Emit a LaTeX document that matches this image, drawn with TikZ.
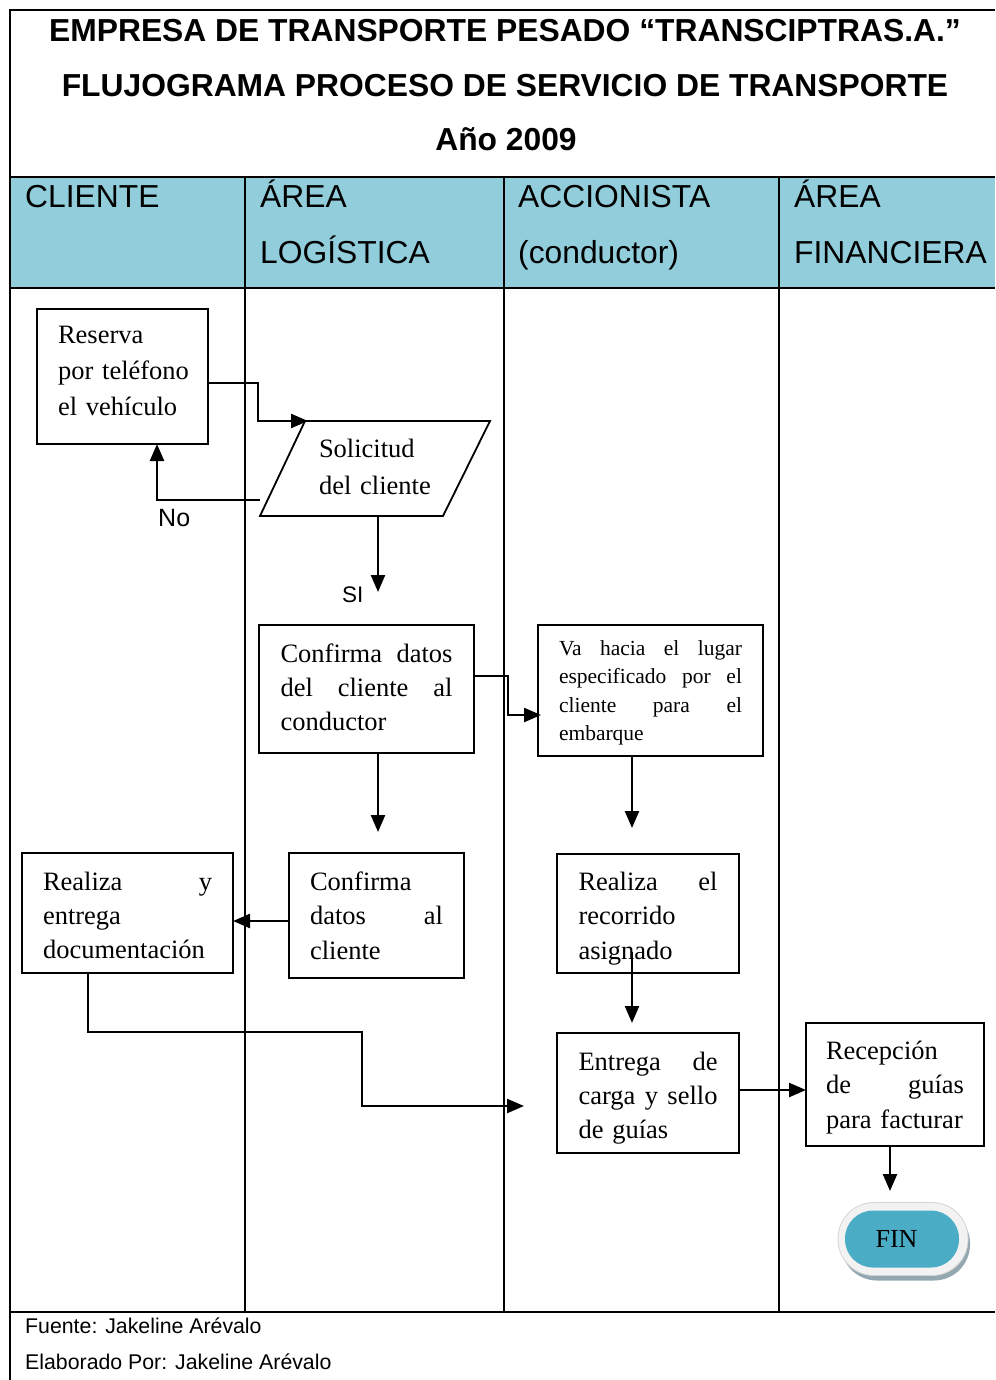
\documentclass[tikz,border=0pt]{standalone}
\usepackage{fontspec}
\setmainfont{Liberation Serif}
\newfontfamily\sansf{Liberation Sans}
\usetikzlibrary{arrows.meta,calc,backgrounds}
\definecolor{hdrblue}{HTML}{92CDDC}
\definecolor{finblue}{HTML}{4BACC6}
\definecolor{rimgray}{HTML}{F2F2F2}
\definecolor{rimedge}{HTML}{D4D4D4}
\definecolor{shadowc}{HTML}{94A8B2}
% invisible struts that fix the height of a first line and the depth of a last line
\newcommand\hstrut[1]{\rule{0pt}{#1pt}}
\newcommand\dstrut[1]{\rule[-#1pt]{0pt}{#1pt}}
\begin{document}
\begin{tikzpicture}[x=1pt,y=-1pt,
  frame/.style={line width=2pt},
  titletext/.style={anchor=base, inner sep=0pt, font=\sansf\bfseries\fontsize{31.8}{38}\selectfont},
  lanetext/.style={anchor=base west, inner sep=0pt, font=\sansf\fontsize{31.8}{38}\selectfont},
  foot/.style={anchor=base west, inner sep=0pt, font=\sansf\fontsize{21.3}{26}\selectfont},
  decision/.style={anchor=base west, inner sep=0pt, font=\sansf\fontsize{25}{30}\selectfont},
  stepbox/.style={draw, line width=1.8pt, inner sep=0pt, outer sep=0pt, align=left,
                  font=\fontsize{26.5}{34.5}\selectfont},
  datashape/.style={line width=1.8pt, line join=miter},
  finshape/.style={fill=finblue, rounded corners=28pt, minimum width=114pt, minimum height=57pt,
                   inner sep=0pt, outer sep=0pt, font=\fontsize{26}{30}\selectfont},
  flow/.style={line width=2.4pt, -{Triangle[length=17pt,width=14pt]}},
]
\useasboundingbox (0,0) rectangle (995,1380);
\begin{scope}[on background layer]
  \fill[white] (0,0) rectangle (995,1380);
\end{scope}

% lane header band and table rules
\fill[hdrblue] (10,177) rectangle (995,288);
\draw[frame] (10,1380) -- (10,10) -- (995,10);
\draw[frame] (10,177) -- (995,177);
\draw[frame] (10,288) -- (995,288);
\draw[frame] (10,1312) -- (995,1312);
\foreach \x in {245,504,779} \draw[frame] (\x,177) -- (\x,1312);

% title
\node[titletext] (t1) at (505,42) {EMPRESA DE TRANSPORTE PESADO “TRANSCIPTRAS.A.”};
\node[titletext] (t2) at (505,97) {FLUJOGRAMA PROCESO DE SERVICIO DE TRANSPORTE};
\node[titletext] (t3) at (506,151) {Año 2009};

% lane names
\node[lanetext] (l1) at (25,208) {CLIENTE};
\node[lanetext] (l2a) at (260,208) {ÁREA};
\node[lanetext] (l2b) at (260,263) {LOGÍSTICA};
\node[lanetext] (l3a) at (518,208) {ACCIONISTA};
\node[lanetext] (l3b) at (518,263) {(conductor)};
\node[lanetext] (l4a) at (794,208) {ÁREA};
\node[lanetext] (l4b) at (794,263) {FINANCIERA};

% process steps
\node[stepbox, minimum width=171pt, minimum height=135pt, text width=129pt,
      font=\fontsize{26.5}{36}\selectfont] (reserva) at (122.5,376.5)
      {\hstrut{24}\mbox{Reserva}\\\mbox{por teléfono}\\\mbox{el vehículo}\dstrut{19}};

% input/output step: text node plus its parallelogram outline
\node[inner sep=0pt, outer sep=0pt, text width=112pt, align=left,
      font=\fontsize{26.5}{36.5}\selectfont] (sol) at (375,468.5)
      {\raisebox{3pt}{\mbox{Solicitud}}\\\raisebox{3pt}{\mbox{del cliente}}};
\coordinate (solTL) at ($(sol.center)+(-70,-47.5)$);
\coordinate (solTR) at ($(sol.center)+(115,-47.5)$);
\coordinate (solBR) at ($(sol.center)+(68,47.5)$);
\coordinate (solBL) at ($(sol.center)+(-115,47.5)$);
\draw[datashape] (solBL) -- (solBR) -- (solTR) -- (solTL) -- cycle;

\node[stepbox, minimum width=215pt, minimum height=128pt, text width=172pt,
      font=\fontsize{26.5}{34}\selectfont] (confA) at (366.5,689)
      {\hstrut{24}Confirma\hfill datos\\del\hfill cliente\hfill al\\\mbox{conductor}\dstrut{10}};
\node[stepbox, minimum width=225pt, minimum height=131pt, text width=183pt,
      font=\fontsize{21.5}{28.5}\selectfont] (va) at (650.5,690.5)
      {\hstrut{24}Va\hfill hacia\hfill el\hfill lugar\\especificado\hfill por\hfill el\\
       cliente\hfill para\hfill el\\\mbox{embarque}\dstrut{9.5}};
\node[stepbox, minimum width=175pt, minimum height=125pt, text width=133pt] (confB)
      at (376.5,915.5) {\hstrut{24}\mbox{Confirma}\\datos\hfill al\\\mbox{cliente}\dstrut{6}};
\node[stepbox, minimum width=211pt, minimum height=120pt, text width=169pt,
      font=\fontsize{26.5}{34}\selectfont] (realizaA) at (127.5,913)
      {\hstrut{28}Realiza\hfill y\\\mbox{entrega}\\\mbox{documentación}\dstrut{6}};
\node[stepbox, minimum width=182pt, minimum height=119pt, text width=139pt] (realizaB)
      at (648,913.5) {\hstrut{28}Realiza\hfill el\\\mbox{recorrido}\\\mbox{asignado}\dstrut{6}};
\node[stepbox, minimum width=182pt, minimum height=120pt, text width=139pt,
      font=\fontsize{26.5}{34}\selectfont] (entrega) at (648,1093)
      {\hstrut{28}Entrega\hfill de\\carga\hfill y\hfill sello\\\mbox{de guías}\dstrut{6}};
\node[stepbox, minimum width=178pt, minimum height=123pt, text width=138pt] (recep)
      at (895,1084.5) {\hstrut{24}\mbox{Recepción}\\de\hfill guías\\\mbox{para facturar}\dstrut{6}};

% end terminal with its rim and shadow
\node[finshape] (fin) at (902,1239) {\hspace*{-11pt}FIN};
\begin{scope}[on background layer]
  \fill[shadowc, rounded corners=36pt] ($(fin.north west)+(-4,-3)$) rectangle ($(fin.south east)+(11,13)$);
  \filldraw[fill=rimgray, draw=rimedge, line width=0.8pt, rounded corners=36pt]
    ($(fin.north west)+(-7,-8)$) rectangle ($(fin.south east)+(9,8)$);
\end{scope}

% connectors
\draw[flow] ($(reserva.east)+(0,6.5)$) -| ($(solTL)+(-47,0)$) -- ($(solTL)+(3,0)$);
\draw[flow] ($(solBL)+(0,-16)$) -| ($(reserva.south west)+(120,0)$);
\node[decision] (no) at (158,526) {No};
\coordinate (siend) at ($(sol.center)+(3,123.5)$);
\draw[flow] ($(sol.center)+(3,47.5)$) -- (siend);
\node[decision, font=\sansf\fontsize{22.5}{27}\selectfont] (si) at (342,602) {SI};
\draw[flow] ($(confA.east)+(0,-13)$) -| ($(va.west)+(-30,24.5)$) -- ($(va.west)+(3,24.5)$);
\draw[flow] ($(va.south)+(-18.5,0)$) -- ++(0,72);
\draw[flow] ($(confA.south)+(11.5,0)$) -- ++(0,79);
\draw[flow] ($(confB.west)+(0,5.5)$) -- ($(realizaA.east)+(0,8)$);
\draw[flow] ($(realizaA.south)+(-39.5,0)$) -- ++(0,59) -| ++(274,74) -- ($(entrega.west)+(-33,13)$);
\draw[flow] ($(realizaB.south)+(-16,-21)$) -- ($(entrega.north)+(-16,-10)$);
\draw[flow] ($(entrega.east)+(0,-3)$) -- ($(recep.west)+(0,5.5)$);
\draw[flow] ($(recep.south)+(-5,0)$) -- ++(0,45);

% source note
\node[foot] (f1) at (25,1333) {Fuente: Jakeline Arévalo};
\node[foot] (f2) at (25,1369) {Elaborado Por: Jakeline Arévalo};
\end{tikzpicture}
\end{document}
